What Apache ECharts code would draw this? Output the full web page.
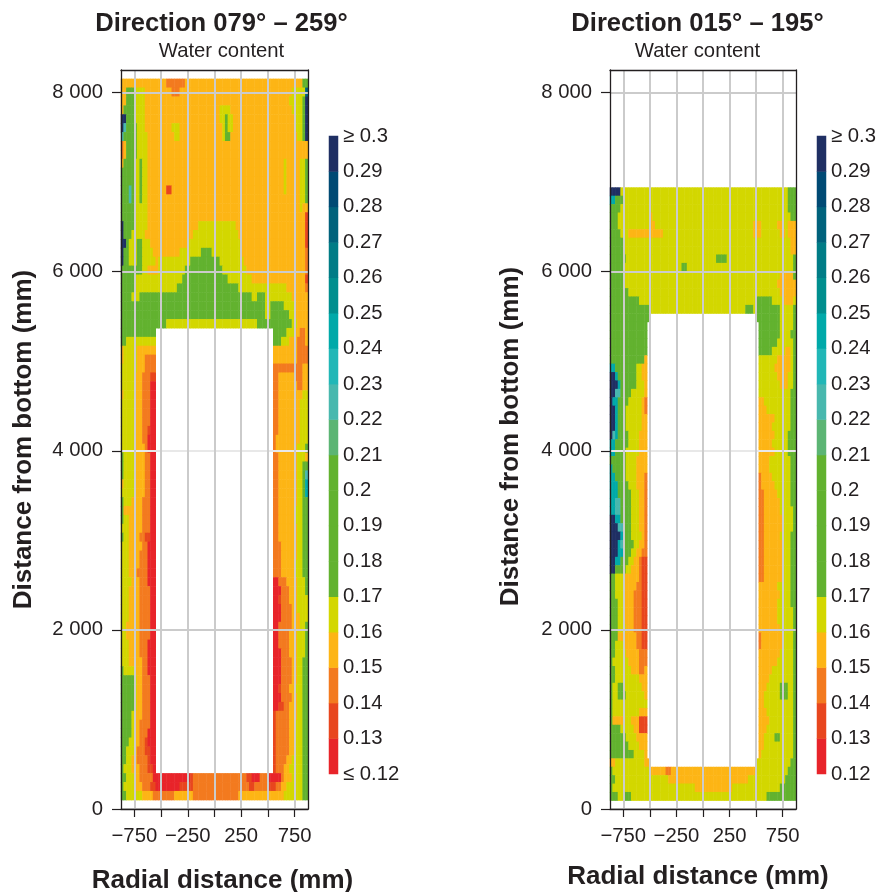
<!DOCTYPE html>
<html><head><meta charset="utf-8">
<style>html,body{margin:0;padding:0;background:#fff}#c{width:880px;height:892px}</style>
<script src="https://cdn.jsdelivr.net/npm/echarts@6/dist/echarts.min.js"></script>
</head><body><div id="c"></div>
<script>
// Water content class of each letter (class mid value)
const classValue = {r:0.125,d:0.135,o:0.145,y:0.155,l:0.165,g:0.185,a:0.225,c:0.245,n:0.275,b:0.295};
const classEdges = [0.12,0.13,0.14,0.15,0.16,0.17,0.18,0.19,0.20,0.21,0.22,0.23,0.24,0.25,0.26,0.27,0.28,0.29,0.30];
const classColors = ['#e8242a','#e8461e','#f37a1f','#fdb515','#d3d700','#62b22f','#62b22f','#62b22f','#62b22f','#5cb574','#48b8ae','#21b7b7','#00a9a9','#008e8e','#007c86','#00627c','#004a74','#1f2f63'];
const legendLabelsLeft = ['≤ 0.12','0.13','0.14','0.15','0.16','0.17','0.18','0.19','0.2','0.21','0.22','0.23','0.24','0.25','0.26','0.27','0.28','0.29','≥ 0.3'];
const legendLabelsRight = ['0.12','0.13','0.14','0.15','0.16','0.17','0.18','0.19','0.2','0.21','0.22','0.23','0.24','0.25','0.26','0.27','0.28','0.29','≥ 0.3'];
const radialTicks = [-750,-500,-250,0,250,500,750];
const radialLabels = [-750,-250,250,750];
const heightTicks = [0,2000,4000,6000,8000];
const colCount = 70;   // 25 mm columns from -875 to 875
const rowCountLeft = 83, rowCountRight = 88;
// Each row, top first: class letter + first column of the run
const rowsLeft = [
".0",
"y0 o17 y24 g68",
"y0 g2 l5 y9 o19 y22 l64 n69",
"y0 g2 l5 y9 l63 g68 b69",
"y0 g1 l5 y9 l37 y41 l64 g68 b69",
"b0 g2 l5 y9 l37 g39 l40 y42 l65 g68 b69",
"b0 a1 g2 l6 y9 l19 y22 l38 g39 l40 y42 l65 g68 b69",
"a0 g1 l6 y10 l20 y22 l38 g39 y41 l66 g68 b69",
"o0 y1 g2 l6 y10",
"o0 y1 g2 l6 y10",
"y0 g1 l5 g7 l8 y10 l61 y62 l67 g69",
"g0 l5 g7 l8 y10 l61 y62 l67 g69",
"g0 l5 g7 l8 y10 l61 y62 l67 g69",
"g0 a3 g4 l5 g7 l8 y10 d17 y19 l61 y62 l67 g69",
"g0 a3 g4 l5 g7 l8 y10 l67 g69",
"g0 l5 y10 l67 y68",
"g0 l5 y10 d69",
"b0 g1 l5 y10 l29 y43 d69",
"b0 g1 l4 y9 l27 y44 d69",
"b0 g2 l3 g6 l8 y11 l25 y45 d69",
"b0 g1 l3 g6 l8 y12 l22 g30 l34 y45 o69",
"b0 g1 l3 g6 l8 y13 l14 g26 l37 y46 o69",
"g0 l8 y10 l14 g24 l38 y47 o69",
"g0 l5 g23 l40 y49 d69",
"g0 l5 g21 l44 y62 o69",
"g0 l4 g7 l49 g51 l54 y64",
"g0 l54 g56 l61 y65",
"g0 l54 g56 l63 y65",
"g0 l17 g51 l64 y66",
"g0 .13 g57 l62 y65 o67 y69",
"g0 l2 .13 g57 l60 y63 o66 y69",
"y0 l1 y6 .13 y57 o66",
"y0 l1 y6 o9 .13 y57 o66",
"l0 y6 o9 .13 o57 y68",
"l0 y5 o8 d11 .13 o57 y59 o65 y68",
"l0 y5 o8 r11 .13 o57 y59 o66 y68",
"y0 l1 y5 o8 r11 .13 o57 y59 l68",
"l0 y5 o8 r11 .13 o57 y59 l67",
"l0 y5 o8 r11 .13 o57 y59 l67",
"l0 y5 o8 r11 .13 o57 y59 l67",
"l0 y5 o8 d10 r11 .13 o57 y59 l67",
"l0 y5 o8 r10 .13 o57 y58 l67",
"l0 l1 y5 o9 r10 .13 o57 y58 l66 g69",
"g0 l1 y5 o9 r11 .13 o57 y59 l66 y69",
"g0 l1 y5 o9 r11 .13 o57 y59 l66 g68",
"g0 l1 y5 o9 r11 .13 o57 y59 l66 g68 a69",
"y0 l1 y5 o9 r11 .13 o57 y59 l66 g68 c69",
"l0 y5 o9 r11 .13 o57 y59 l66 g68 c69",
"g0 l1 y4 o8 r11 .13 o57 y59 l66 g68",
"g0 y1 o8 r11 .13 o57 y59 l65 g68",
"g0 l1 y3 o8 r11 .13 o57 y59 l65 g68",
"l0 y3 o8 r11 .13 o57 y59 l66 g68",
"g0 l1 y3 o7 d9 r11 .13 o57 y59 l66 g68",
"l0 y3 o8 r10 .13 o57 y60 l66 g68",
"l0 y3 o7 r10 .13 o57 y60 l66 g68",
"l0 y3 o7 r10 .13 o57 y60 l65 g68",
"l0 y3 o6 r10 .13 o57 y60 l65 g68",
"l0 y4 o7 r10 .13 r57 o59 y62 l66 g69",
"l0 y3 o7 r11 .13 r57 o60 y63 l66 g69",
"l0 y3 o7 r11 .13 r57 d59 o60 y63 l66",
"l0 y3 o7 r11 .13 r57 o60 y64 l66",
"l0 y3 o7 r11 .13 r57 o60 y64 l67",
"l0 y2 o7 r11 .13 r57 o59 y64 l67 g69",
"l0 y2 o7 r11 .13 r57 o59 y63 l66 g69",
"l0 y3 o7 r10 .13 r57 o59 y63 l66 g69",
"l0 y3 o7 r10 .13 r57 o60 y63 l66 g69",
"l0 y3 o8 r10 .13 r57 o60 y64 l66 g68",
"g0 l1 y5 o8 r10 .13 r57 o60 y64 l66 g68",
"g0 l5 y6 o8 r11 .13 r57 o60 y64 l66 g68",
"g0 l5 y6 o8 r11 .13 r57 d59 o60 y63 l65 g68",
"g0 l5 y6 o8 r11 .13 r57 o60 y64 l66 g68",
"g0 l5 y6 o8 r11 .13 r57 d59 o61 y63 l66 g68",
"g0 l4 y5 o8 r11 .13 d57 o58 y63 l66 g68",
"g0 l4 y5 o7 r11 .13 d57 o58 y63 l65 g68",
"g0 l4 y5 o7 r10 .13 d57 o58 y63 l65 g68",
"g0 l3 y5 o7 d9 r10 .13 d57 o58 y63 l65 g68",
"g0 l2 y5 o6 d9 r11 .13 d57 o58 y63 l65 g68",
"g0 l2 y4 o6 d10 r11 .13 d57 o58 y62 l64 g68",
"g0 l1 y4 o7 d10 r12 .13 d57 o58 y61 l63 g68",
"g0 l2 y5 o7 r12 d26 o27 d47 r49 o52 r55 o60 y61 l64 g68",
"g0 l1 y5 o8 d11 r13 d22 o27 d48 o50 d55 o58 y60 l62 g68",
"g0 l2 y8 o12 y20 o27 y44 l61 g68",
".0"
];
const rowsRight = [
".0",".0",".0",".0",".0",".0",".0",".0",".0",".0",".0",".0",".0",".0",
"b0 l4 g67",
"c0 g2 l5 g67",
"g0 l4 g67",
"g0 l3 y15 l16 g68",
"g0 l3 y15 l17 y54 l57 y63 l65 y67 l70",
"g0 l4 y7 l20 y54 l57 y64 l66 y67",
"g0 l5 y68",
"g0 l5 y68",
"g0 l6 g40 l44 g69",
"g0 l5 g27 l29 g69",
"g0 l5 y64 g69",
"g0 l5 y63",
"g0 l7 y64",
"g0 l11 g55 l61 y65 l69",
"g0 l15 g51 l54 g55 l64 g69",
"g0 .15 g55 l64 g69",
"g0 .14 g56 l64 g69",
"g0 .14 g56 l64 g68",
"g0 .14 g56 l63 g69",
"g0 .14 g56 l61 y66 l68 g69",
"g0 y13 .14 l56 y63 l68 g69",
"c0 g2 l10 y12 .14 l56 y62 l68 g69",
"b0 c2 g3 l10 y12 .14 l56 y63 l67 g69",
"b0 c3 g4 l10 y13 .14 l56 y64 l67 g69",
"b0 a2 g4 l8 y13 .14 l56 g68",
"b0 c1 g3 l7 y12 o13 .14 y56 l58 g68",
"b0 c2 g3 l6 y12 o13 .14 y56 l59 g68",
"b0 c2 g3 l6 y12 .14 y56 l62 g68",
"b0 c2 g3 l6 y12 .14 y56 l61 g68",
"b0 a1 c2 g3 l7 y11 .14 y56 l62 g67",
"c0 g2 l7 y11 .14 y56 l61 g67",
"c0 g2 l6 y11 .14 y56 l62 g67",
"g0 l6 y10 .14 y56 l60 g68",
"c0 g1 l6 y10 .14 y56 l60 g68",
"c0 g2 l6 y10 o13 .14 o56 y57 l61 g68",
"c0 g3 l7 y10 o13 .14 o56 y57 l62 g68",
"c0 g3 l8 y11 o13 .14 o56 y58 l63 g68",
"c0 a2 g4 l8 y11 o13 .14 o56 y58 l64 g68",
"c0 a2 g4 l8 y11 o13 .14 o56 y58 l64 g69",
"b0 c2 g4 l8 y11 o13 .14 o56 y58 l65 g69",
"b0 a3 g5 l8 y11 o13 .14 o56 y58 l65 g69",
"b0 c4 g5 l8 y12 o13 .14 o56 y58 l64 g68",
"b0 c3 a4 g5 l9 y11 o13 .14 o56 y58 l65 g68",
"b0 c3 g5 l8 y10 o12 .14 o56 y58 l65 g68",
"b0 c2 g4 l7 y9 o11 d12 .14 o56 y58 l65 g68",
"b0 g2 l6 y8 o11 d12 .14 o56 y58 l65 g68",
"g0 l2 y5 o11 d12 .14 o56 y58 l65 g68",
"g0 l2 y5 o10 d12 .14 y56 l63 g68",
"g0 l2 y5 o9 d12 .14 y56 l64 g68",
"g0 l3 y5 o9 d12 .14 y56 l63 g68",
"g0 l3 y5 o9 d12 .14 y56 l63 g69",
"g0 l3 y5 o9 d12 .14 y56 l63 g69",
"g0 l3 y6 o9 d12 .14 y56 l64 g69",
"g0 y3 o10 d12 .14 o56 y57 l65 g69",
"g0 l2 y5 o10 d12 .14 o56 y57 l65 g69",
"g0 l2 y6 o11 .14 y56 l64 g69",
"g0 l1 y7 o11 .14 y56 l63 g69",
"g0 l2 y8 o11 y13 .14 y56 l61 g69",
"g0 l2 l9 y11 .14 y56 l60 g69",
"g0 l1 g3 l5 y12 .14 y56 l59 g64 l67 g69",
"g0 l1 g3 l6 y13 .14 y56 l58 g64 l67 g69",
"g0 l1 .14 y56 l58 g69",
"g0 l1 y11 .14 y56 l59 g69",
"g0 y1 l5 y8 d11 .14 y56 l60 g69",
"g0 l4 y9 d11 .14 y56 l59 g69",
"g0 l6 y10 .14 y56 l58 g62 l64 g69",
"g0 l7 y11 .14 y56 l58 g69",
"g0 l9 y13 .14 y56 l57 g69",
"y0 l2 y13 .15 l55 g68",
"g0 l1 y15 o21 y23 l55 g67",
"g0 l2 y22 l52 g66",
"g0 l1 y32 l46 g64",
"g0 l3 g5 l8 g59",
".0"
];

function cells(rows){
  const out=[]; const n=rows.length;
  rows.forEach((row,i)=>{
    const runs=row.split(' ').map(t=>[t[0],+t.slice(1)]);
    runs.forEach((r,j)=>{
      if(r[0]==='.')return;
      const end=j+1<runs.length?runs[j+1][1]:colCount;
      for(let c=r[1];c<end;c++) out.push([c,n-1-i,classValue[r[0]]]);
    });
  });
  return out;
}
const FONT='"Liberation Sans", Arial, sans-serif', INK='#231f20', GRID='#cbcbcb';
const idx=n=>Array.from({length:n},(_,i)=>i);
const panels=[
 {left:121,width:187,rows:rowsLeft,n:rowCountLeft,cx:216.5,title:'Direction 079° – 259°',legLeft:329,labels:legendLabelsLeft,xGap:59,yGap:84,xPad:[0,0,0,16],yPad:[0,0,0,0]},
 {left:610,width:186,rows:rowsRight,n:rowCountRight,cx:692.5,title:'Direction 015° – 195°',legLeft:817,labels:legendLabelsRight,xGap:55,yGap:86,xPad:[0,10,0,0],yPad:[0,0,0,6]}
];
const grid=[],xAxis=[],yAxis=[],series=[],title=[];
panels.forEach((p,pi)=>{
  const g=grid.length;
  grid.push({left:p.left,width:p.width,top:70,height:739,outerBoundsMode:'none'});
  // hidden band axes carry the cells and draw the top/right frame
  const xb=xAxis.length;
  xAxis.push({gridIndex:g,type:'category',position:'top',data:idx(colCount),z:6,axisLine:{show:true,onZero:false,lineStyle:{color:INK,width:1.3}},axisTick:{show:false},axisLabel:{show:false},splitLine:{show:false}});
  xAxis.push({gridIndex:g,type:'value',position:'bottom',min:-875,max:875,z:5,
    name:'Radial distance (mm)',nameLocation:'middle',nameGap:p.xGap,nameTextStyle:{fontFamily:FONT,fontSize:26,fontWeight:'bold',color:INK,padding:p.xPad},
    axisLine:{show:true,onZero:false,lineStyle:{color:INK,width:1.3}},
    axisTick:{show:true,length:8,customValues:radialTicks,lineStyle:{color:INK,width:1.2}},
    axisLabel:{customValues:radialLabels,fontFamily:FONT,fontSize:20.3,color:INK,margin:17,formatter:v=>String(v).replace('-','−')},
    splitLine:{show:true,lineStyle:{color:GRID,width:2}}});
  const yb=yAxis.length;
  yAxis.push({gridIndex:g,type:'category',position:'right',data:idx(p.n),z:6,axisLine:{show:true,onZero:false,lineStyle:{color:INK,width:1.3}},axisTick:{show:false},axisLabel:{show:false},splitLine:{show:false}});
  yAxis.push({gridIndex:g,type:'value',position:'left',min:0,max:8252,z:5,
    name:'Distance from bottom (mm)',nameLocation:'middle',nameGap:p.yGap,nameTextStyle:{fontFamily:FONT,fontSize:26,fontWeight:'bold',color:INK,padding:p.yPad},
    axisLine:{show:true,onZero:false,lineStyle:{color:INK,width:1.3}},
    axisTick:{show:true,length:9,customValues:heightTicks,lineStyle:{color:INK,width:1.2}},
    axisLabel:{customValues:heightTicks,fontFamily:FONT,fontSize:20.3,color:INK,margin:18,formatter:v=>String(v).replace(/(\d)(\d{3})$/,'$1 $2')},
    splitLine:{show:true,lineStyle:{color:['#cbcbcb','#cbcbcb','#e8e8e8','#cbcbcb','#cbcbcb'],width:2}}});
  series.push({type:'heatmap',xAxisIndex:xb,yAxisIndex:yb,data:cells(p.rows),silent:true,progressive:0,z:2,emphasis:{disabled:true}});
  title.push({text:p.title,left:p.cx,top:6,textAlign:'center',textStyle:{fontFamily:FONT,fontSize:25.6,fontWeight:'bold',color:INK}});
  title.push({text:'Water content',left:p.cx,top:36,textAlign:'center',textStyle:{fontFamily:FONT,fontSize:20.3,fontWeight:'normal',color:INK}});
  // colour key
  const lg=grid.length;
  grid.push({left:p.legLeft,width:9,top:136,height:638,outerBoundsMode:'none'});
  const lx=xAxis.length;
  xAxis.push({gridIndex:lg,type:'category',data:[0],show:false});
  const ly=yAxis.length;
  yAxis.push({gridIndex:lg,type:'category',data:idx(classColors.length),show:false});
  yAxis.push({gridIndex:lg,type:'value',position:'right',min:0.12,max:0.30,
    axisLine:{show:false},axisTick:{show:false},splitLine:{show:false},
    axisLabel:{customValues:classEdges,fontFamily:FONT,fontSize:20.3,color:INK,margin:5,
      formatter:v=>p.labels[classEdges.findIndex(e=>Math.abs(e-v)<1e-6)]}});
  series.push({type:'heatmap',xAxisIndex:lx,yAxisIndex:ly,silent:true,progressive:0,z:2,emphasis:{disabled:true},
    data:classColors.map((c,i)=>[0,i,classEdges[i]+0.005])});
});
const chart=echarts.init(document.getElementById('c'),null,{renderer:'canvas',width:880,height:892});
chart.setOption({animation:false,backgroundColor:'#fff',title,grid,xAxis,yAxis,series,
  visualMap:{type:'piecewise',show:false,seriesIndex:series.map((s,i)=>i),dimension:2,
    pieces:classColors.map((c,i)=>({gte:classEdges[i],lt:classEdges[i+1],color:c}))}});
</script></body></html>
